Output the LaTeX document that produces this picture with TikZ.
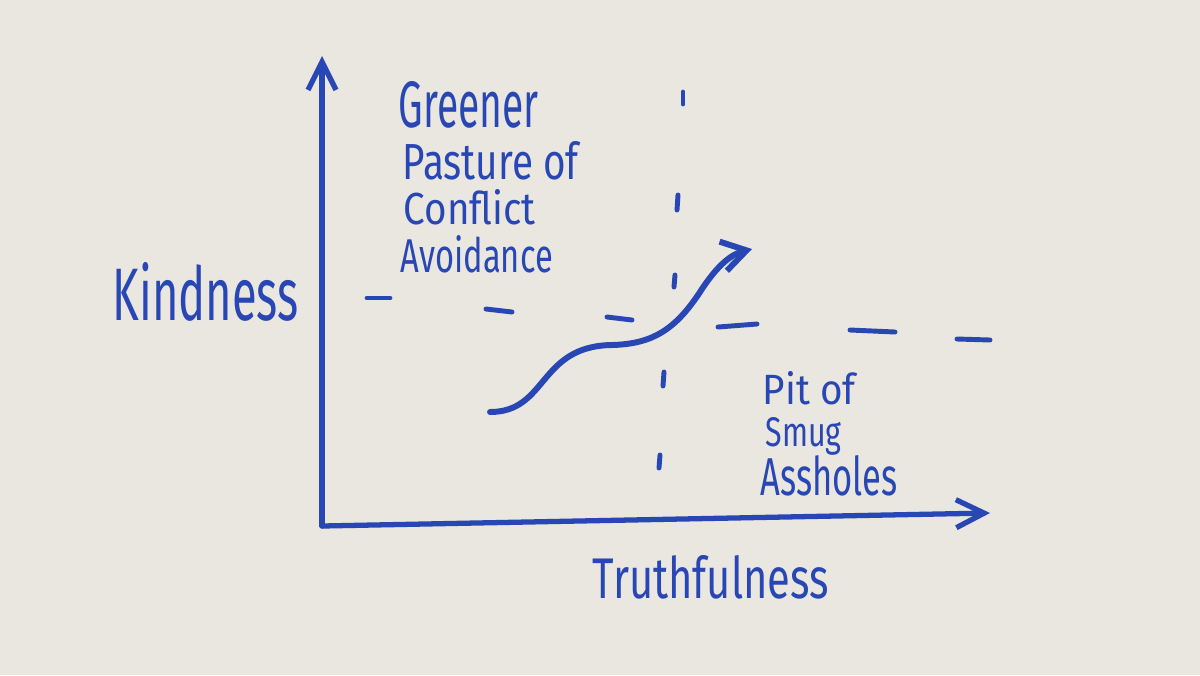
\documentclass[tikz,border=0pt]{standalone}
\usepackage{fontspec}
\usepackage{graphicx}
\setmainfont{Fira Sans}
\usetikzlibrary{arrows.meta}
\definecolor{boardbg}{RGB}{233,231,223}
\definecolor{markerblue}{RGB}{40,70,180}
\newlength{\pxunit}
\setlength{\pxunit}{0.1mm}
\newcommand{\handtext}[3]{\resizebox{#1\pxunit}{#2\pxunit}{#3}}
\tikzset{
    board_ink/.style={
        draw=markerblue,
        line width=1.5pt,
        line cap=round,
        line join=round
    },
    board_axis/.style={
        board_ink,
        -{Straight Barb[length=2.8mm, width=2.8mm]}
    },
    board_trend/.style={
        board_ink,
        line width=1.7pt,
        -{Straight Barb[length=2.4mm, width=3mm]}
    },
    board_dash/.style={
        board_ink,
        line width=1.4pt
    },
    board_text/.style={
        text=markerblue,
        inner sep=0pt,
        anchor=base west
    }
}

\begin{document}
\begin{tikzpicture}[x=0.01cm, y=-0.01cm]

% --- Board ---
\fill[boardbg] (0,0) rectangle (1200,675);
\useasboundingbox (0,0) rectangle (1200,675);

% --- Axes ---
\coordinate (origin) at (322,526);
\coordinate (kindTip) at (322,56);
\coordinate (truthTip) at (990,513);
\draw[board_axis] (origin) -- (kindTip);
\draw[board_axis] (origin) -- (truthTip);

% --- Dashed dividers ---
\foreach \xa/\ya/\xb/\yb in {683/92/683/104, 678/195/677/210, 675/275/674/287,
                             664/372/663/386, 660/455/659/468}
    \draw[board_dash] (\xa,\ya) -- (\xb,\yb);
\foreach \xa/\ya/\xb/\yb in {367/298/390/298, 486/309/512/312, 607/317/632/320,
                             718/327/757/324, 850/330/895/332, 957/339/990/340}
    \draw[board_dash] (\xa,\ya) -- (\xb,\yb);

% --- Trend ---
\coordinate (trendStart) at (490,412);
\coordinate (trendEnd) at (752,249);
\draw[board_trend] (trendStart) .. controls (548,412) and (538,346) .. (612,345)
    .. controls (652,344) and (675,330) .. (700,292)
    .. controls (718,264) and (732,254) .. (trendEnd);

% --- Labels ---
\node[board_text] (kindness) at (112,320) {\handtext{186}{58}{Kindness}};
\node[board_text] (truthfulness) at (592,598) {\handtext{236}{43}{Truthfulness}};

\node[board_text] (greener) at (398,127) {\handtext{140}{46}{Greener}};
\node[board_text] (pasture) at (402,179) {\handtext{176}{38}{Pasture of}};
\node[board_text] (conflict) at (403,224) {\handtext{132}{35}{Conflict}};
\node[board_text] (avoidance) at (400,272) {\handtext{152}{37}{Avoidance}};

\node[board_text] (pit) at (762,404) {\handtext{93}{33}{Pit of}};
\node[board_text] (smug) at (765,446) {\handtext{76}{29}{Smug}};
\node[board_text] (assholes) at (760,495) {\handtext{137}{40}{Assholes}};

\end{tikzpicture}
\end{document}
